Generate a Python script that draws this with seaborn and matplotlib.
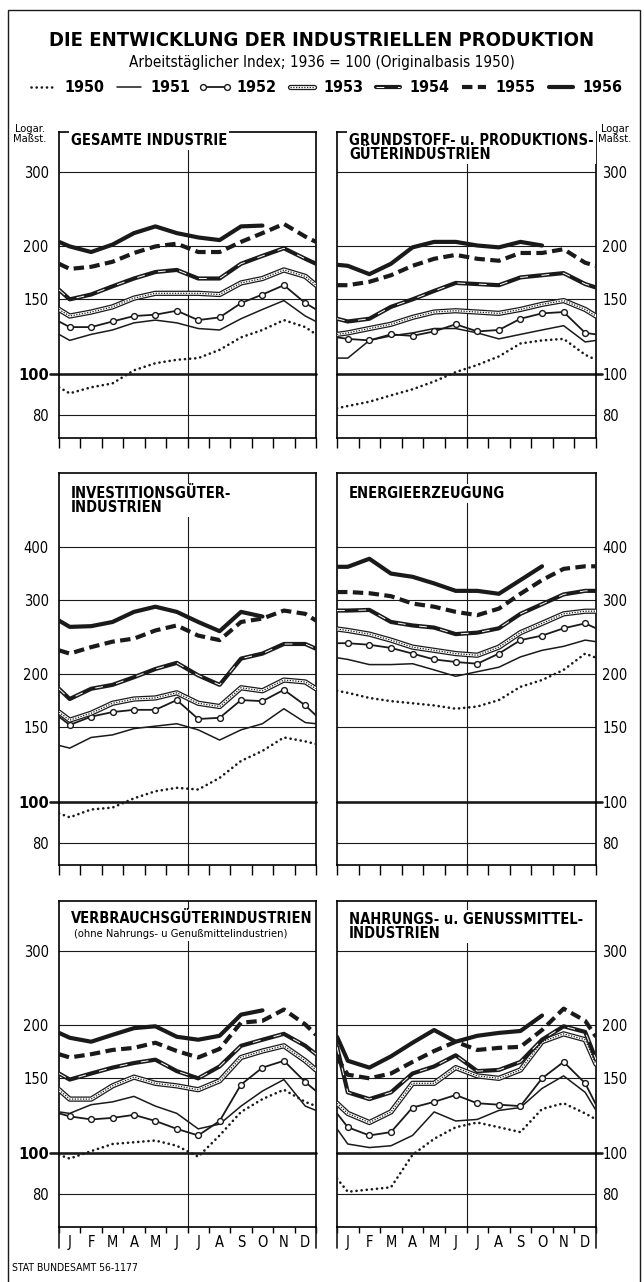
import numpy as np
import pandas as pd
import matplotlib
matplotlib.use("Agg")
import matplotlib.pyplot as plt
import seaborn as sns
from matplotlib.lines import Line2D
from matplotlib.legend_handler import HandlerTuple
from matplotlib.patches import Rectangle
from matplotlib.ticker import NullLocator

# ---------------- data (index values, 1936 = 100) ----------------
# each list: value at left border, Jan ... Dec, value at right border
YEARS = [1950, 1951, 1952, 1953, 1954, 1955, 1956]
MONTHS = ["J", "F", "M", "A", "M", "J", "J", "A", "S", "O", "N", "D"]
nan = np.nan

GESAMT = {
    1950: [93, 90, 93, 95, 102, 106, 108, 109, 114, 122, 127, 134, 129, 124],
    1951: [124, 120, 124, 127, 132, 134, 132, 128, 127, 135, 142, 149, 137, 133],
    1952: [133, 129, 129, 133, 137, 138, 141, 134, 136, 147, 154, 162, 147, 142],
    1953: [142, 137, 140, 144, 151, 155, 155, 155, 154, 164, 168, 176, 170, 162],
    1954: [158, 150, 154, 161, 168, 174, 176, 168, 168, 182, 190, 198, 187, 182],
    1955: [182, 177, 179, 184, 193, 200, 203, 194, 194, 205, 215, 226, 211, 205],
    1956: [205, 200, 194, 202, 215, 223, 215, 210, 207, 223, 224, nan, nan, nan],
}
GRUNDSTOFF = {
    1950: [83, 84, 86, 89, 92, 96, 101, 105, 110, 118, 120, 121, 111, 108],
    1951: [109, 109, 120, 123, 125, 128, 128, 125, 121, 124, 127, 130, 119, 120],
    1952: [122, 121, 120, 124, 123, 126, 131, 126, 127, 135, 139, 140, 125, 124],
    1953: [124, 125, 128, 131, 136, 140, 141, 140, 139, 142, 146, 149, 142, 137],
    1954: [135, 133, 135, 144, 150, 157, 164, 163, 162, 169, 171, 173, 163, 160],
    1955: [162, 162, 165, 171, 180, 187, 191, 187, 185, 193, 193, 197, 183, 180],
    1956: [181, 180, 172, 182, 199, 205, 205, 201, 199, 205, 201, nan, nan, nan],
}
INVEST = {
    1950: [94, 92, 96, 97, 102, 106, 108, 107, 114, 125, 132, 142, 139, 137],
    1951: [136, 134, 142, 144, 149, 151, 153, 148, 140, 148, 153, 166, 154, 153],
    1952: [159, 152, 159, 163, 165, 165, 174, 157, 158, 174, 173, 184, 169, 160],
    1953: [163, 156, 162, 171, 175, 176, 181, 171, 168, 186, 183, 194, 192, 185],
    1954: [185, 175, 185, 189, 197, 206, 213, 199, 189, 218, 224, 236, 236, 230],
    1955: [228, 224, 232, 239, 243, 254, 261, 247, 241, 266, 271, 283, 278, 268],
    1956: [268, 259, 260, 266, 281, 289, 281, 266, 253, 281, 274, nan, nan, nan],
}
ENERGIE = {
    1950: [183, 181, 176, 173, 171, 169, 166, 168, 174, 187, 194, 205, 224, 219],
    1951: [219, 217, 211, 211, 212, 205, 198, 203, 208, 220, 228, 233, 241, 239],
    1952: [237, 237, 235, 231, 224, 217, 214, 212, 224, 241, 247, 257, 264, 257],
    1953: [256, 254, 249, 241, 232, 228, 224, 222, 232, 251, 264, 278, 282, 282],
    1954: [283, 283, 284, 266, 261, 258, 249, 251, 257, 278, 293, 309, 315, 315],
    1955: [313, 313, 311, 306, 294, 289, 281, 276, 286, 310, 334, 355, 360, 360],
    1956: [359, 359, 375, 346, 340, 328, 315, 315, 310, 334, 360, nan, nan, nan],
}
VERBRAUCH = {
    1950: [99, 97, 101, 105, 106, 107, 104, 98, 110, 125, 134, 141, 132, 129],
    1951: [125, 124, 130, 132, 136, 129, 124, 114, 117, 129, 140, 149, 129, 126],
    1952: [124, 122, 120, 121, 123, 119, 114, 110, 119, 145, 159, 165, 147, 140],
    1953: [141, 134, 134, 144, 151, 146, 144, 141, 148, 168, 174, 179, 165, 157],
    1954: [154, 149, 154, 159, 163, 166, 156, 150, 160, 179, 185, 191, 179, 171],
    1955: [171, 168, 171, 175, 177, 182, 174, 168, 176, 203, 205, 218, 201, 190],
    1956: [192, 187, 183, 190, 197, 199, 188, 185, 189, 212, 217, nan, nan, nan],
}
NAHRUNG = {
    1950: [87, 81, 82, 83, 99, 108, 115, 118, 115, 112, 127, 131, 124, 120],
    1951: [114, 105, 103, 104, 110, 125, 119, 120, 126, 128, 142, 152, 139, 126],
    1952: [124, 115, 110, 112, 128, 132, 137, 131, 130, 129, 150, 164, 146, 130],
    1953: [131, 124, 118, 125, 146, 146, 159, 152, 150, 157, 183, 191, 185, 162],
    1954: [178, 139, 134, 139, 154, 160, 170, 156, 157, 164, 185, 199, 193, 166],
    1955: [168, 153, 150, 154, 164, 174, 183, 175, 177, 178, 195, 219, 205, 188],
    1956: [188, 165, 159, 169, 182, 195, 183, 189, 192, 194, 211, nan, nan, nan],
}

TITLE = "DIE ENTWICKLUNG DER INDUSTRIELLEN PRODUKTION"
SUBTITLE = "Arbeitstäglicher Index; 1936 = 100 (Originalbasis 1950)"
FOOTER = "STAT BUNDESAMT 56-1177"
LOG_LABEL_L = "Logar.\nMaßst."
LOG_LABEL_R = "Logar\nMaßst."

PANELS = [
    (GESAMT, "GESAMTE INDUSTRIE", None, 0, 0),
    (GRUNDSTOFF, "GRUNDSTOFF- u. PRODUKTIONS-\nGÜTERINDUSTRIEN", None, 0, 1),
    (INVEST, "INVESTITIONSGÜTER-\nINDUSTRIEN", None, 1, 0),
    (ENERGIE, "ENERGIEERZEUGUNG", None, 1, 1),
    (VERBRAUCH, "VERBRAUCHSGÜTERINDUSTRIEN",
     "(ohne Nahrungs- u Genußmittelindustrien)", 2, 0),
    (NAHRUNG, "NAHRUNGS- u. GENUSSMITTEL-\nINDUSTRIEN", None, 2, 1),
]
ROW_TICKS = [[80, 100, 150, 200, 300],
             [80, 100, 150, 200, 300, 400],
             [80, 100, 150, 200, 300]]

# ---------------- styling ----------------
STYLE = {
    1950: [dict(color="k", lw=1.9, linestyle=(0, (0.05, 1.9)), dash_capstyle="round")],
    1951: [dict(color="k", lw=1.1)],
    1952: [dict(color="k", lw=1.3, marker="o", markersize=4.2,
                markerfacecolor="white", markeredgecolor="k", markeredgewidth=1.0)],
    1953: [dict(color="k", lw=3.8), dict(color="white", lw=2.0),
           dict(color="k", lw=0.9, linestyle=(0, (1, 1.2)))],
    1954: [dict(color="k", lw=3.0), dict(color="white", lw=0.7, linestyle=(0, (8, 14)))],
    1955: [dict(color="k", lw=3.0, linestyle=(0, (2.5, 1.3)))],
    1956: [dict(color="k", lw=3.0)],
}

W, H = 644, 1282
COL_X = [(59, 316), (337, 596)]
ROW_Y = [(132, 438), (473, 865), (901, 1227)]
ROW_LIM = [(70.6, 372.5), (71.0, 597.7), (66.9, 393.0)]
TITLE_OFF = [[1, 1], [13, 13], [10, 11]]

sns.set_theme(style="white", rc={"axes.edgecolor": "black", "axes.linewidth": 1.2,
                                 "xtick.color": "black", "ytick.color": "black",
                                 "text.color": "black", "axes.labelcolor": "black"})
plt.rcParams["font.family"] = ["DejaVu Sans"]
plt.rcParams["font.stretch"] = "condensed"

fig = plt.figure(figsize=(W / 100, H / 100), dpi=100)

# outer frame
fig.add_artist(Rectangle((8 / W, -0.01), (640 - 8) / W, 1 - 10 / H + 0.01,
                         transform=fig.transFigure, fill=False, ec="k", lw=1.0))

POS = [0.0] + [i + 0.5 for i in range(12)] + [12.0]
MONTH_POS = [i + 0.5 for i in range(12)]

for data, title, subtitle, r, c in PANELS:
    x0, x1 = COL_X[c]
    y0, y1 = ROW_Y[r]
    ax = fig.add_axes([x0 / W, 1 - y1 / H, (x1 - x0) / W, (y1 - y0) / H])
    ax.set_yscale("log")
    ticks = ROW_TICKS[r]
    for v in ticks:
        if v == 100:
            if c == 0:
                ax.axhline(v, xmin=-0.035, xmax=1, color="k", lw=1.9, zorder=1, clip_on=False)
            else:
                ax.axhline(v, xmin=0, xmax=1.025, color="k", lw=1.9, zorder=1, clip_on=False)
        else:
            ax.axhline(v, color="k", lw=0.8, zorder=1)
    ax.axvline(6, color="k", lw=0.8, zorder=1)

    for yr in YEARS:
        df = pd.DataFrame({"x": POS, "y": data[yr]}).dropna()
        for layer in STYLE[yr]:
            kw = dict(layer)
            if "marker" in kw:
                kw["markevery"] = slice(1, 13)
            sns.lineplot(x=df["x"], y=df["y"], ax=ax, errorbar=None, legend=False,
                         sort=False, zorder=3, **kw)

    ax.set_xlim(0, 12)
    ax.set_ylim(*ROW_LIM[r])
    ax.set_xlabel("")
    ax.set_ylabel("")
    ax.set_yticks(ticks, labels=[str(v) for v in ticks])
    ax.yaxis.set_minor_locator(NullLocator())
    for lbl, v in zip(ax.get_yticklabels(), ticks):
        if v == 100:
            lbl.set_fontweight("bold")
            lbl.set_fontsize(14)
            lbl.set_fontstretch("normal")
    if c == 0:
        ax.tick_params(axis="y", which="major", left=True, right=False, labelleft=True,
                       labelright=False, length=7, width=0, pad=0.5, labelsize=10.5)
    else:
        ax.yaxis.tick_right()
        ax.tick_params(axis="y", which="major", left=False, right=True, labelleft=False,
                       labelright=True, length=4, width=0, pad=0.5, labelsize=10.5)

    ax.set_xticks(range(13))
    if r < 2:
        ax.tick_params(axis="x", which="major", direction="out", length=7, width=1.0,
                       labelbottom=False, bottom=True, top=False)
    else:
        ax.tick_params(axis="x", which="major", direction="out", length=4, width=1.0,
                       labelbottom=False, bottom=True, top=False)
        ax.set_xticks(MONTH_POS, labels=MONTHS, minor=True)
        ax.tick_params(axis="x", which="minor", length=0, pad=6, labelsize=10.5)
        ext = 21 / (y1 - y0)
        ax.axvline(0, ymin=-ext, ymax=0, color="k", lw=1.2, clip_on=False)
        ax.axvline(12, ymin=-ext, ymax=0, color="k", lw=1.2, clip_on=False)

    tx = 12 / (x1 - x0)
    ty = 1 - TITLE_OFF[r][c] / (y1 - y0)
    ax.text(tx, ty, title, transform=ax.transAxes, ha="left", va="top", fontsize=10.5,
            fontweight="bold", linespacing=0.95, zorder=6,
            bbox=dict(fc="white", ec="none", pad=1.5))
    if subtitle:
        ax.text(tx + 0.01, 1 - 28 / (y1 - y0), subtitle, transform=ax.transAxes,
                ha="left", va="top", fontsize=8, zorder=6,
                bbox=dict(fc="white", ec="none", pad=1.5))

fig.text(30 / W, 1 - 124 / H, LOG_LABEL_L, ha="center", va="top", fontsize=8, linespacing=1.0)
fig.text(615 / W, 1 - 124 / H, LOG_LABEL_R, ha="center", va="top", fontsize=8, linespacing=1.0)

fig.text(322 / W, 1 - 40 / H, TITLE, ha="center", va="center", fontsize=14.5, fontweight="bold")
fig.text(322 / W, 1 - 63 / H, SUBTITLE, ha="center", va="center", fontsize=11)
fig.text(12 / W, 1 - 1268 / H, FOOTER, ha="left", va="center", fontsize=7.5)

# legend
handles = []
for yr in YEARS:
    parts = [Line2D([], [], **layer) for layer in STYLE[yr]]
    handles.append(tuple(parts) if len(parts) > 1 else parts[0])
fig.legend(handles, [str(y) for y in YEARS], loc="center", ncol=7,
           bbox_to_anchor=(324 / W, 1 - 88 / H), frameon=False, numpoints=2,
           handlelength=2.1, handletextpad=0.3, columnspacing=0.5,
           prop=dict(size=11.5, weight="bold"), borderpad=0.1, borderaxespad=0,
           handler_map={tuple: HandlerTuple(ndivide=1, pad=0)})

fig.savefig("out.png", dpi=100)
